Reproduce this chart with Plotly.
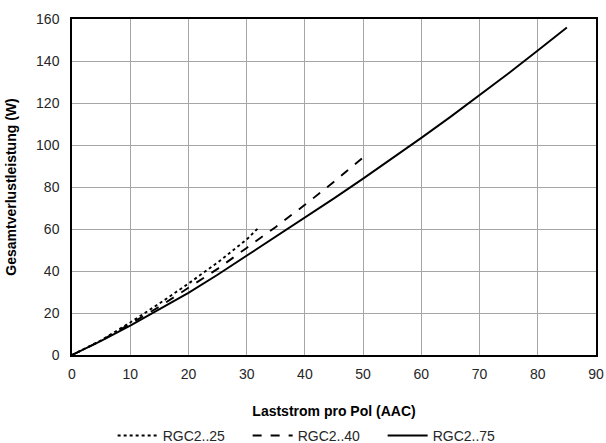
import plotly.graph_objects as go

# Data
current_25 = [0, 5, 10, 15, 20, 25, 30, 32]
loss_25 = [0, 7, 15.5, 24.5, 34, 44, 55, 60.5]

current_40 = [0, 5, 10, 15, 20, 25, 30, 35, 40, 45, 50]
loss_40 = [0, 6.8, 14.8, 23, 32, 41, 51, 61, 71.5, 82.5, 94]

current_75 = [0, 5, 10, 15, 20, 25, 30, 35, 40, 45, 50, 55, 60, 65, 70, 75, 80, 85]
loss_75 = [0, 6.7, 14, 21.6, 29.6, 38.2, 47.3, 56.1, 65.2, 74.6, 84, 93.6, 103.4, 113.4, 123.6, 134.2, 145, 156]

series = [
    ("RGC2..25", current_25, loss_25, "dot"),
    ("RGC2..40", current_40, loss_40, "dash"),
    ("RGC2..75", current_75, loss_75, "solid"),
]

fig = go.Figure()
for name, x, y, dash in series:
    fig.add_trace(go.Scatter(
        x=x, y=y, name=name, mode="lines",
        line=dict(color="black", width=1.9, dash=dash),
    ))

font_family = "Liberation Sans, Arial, sans-serif"
fig.update_layout(
    width=606, height=443,
    margin=dict(l=72, r=10, t=19, b=88, autoexpand=False),
    plot_bgcolor="white", paper_bgcolor="white",
    font=dict(family=font_family, size=14, color="#262626"),
    showlegend=True,
    legend=dict(
        orientation="h", x=0.464, xanchor="center",
        yref="container", y=0.016, yanchor="middle",
        font=dict(size=14, color="#262626"),
        itemwidth=40, entrywidth=80, entrywidthmode="pixels",
        tracegroupgap=0,
    ),
    xaxis=dict(
        range=[0, 90], dtick=10, tick0=0,
        showgrid=True, gridcolor="#a6a6a6", gridwidth=1,
        showline=True, linecolor="black", linewidth=1.5, mirror=True,
        zeroline=False, ticks="", automargin=False, ticklabelstandoff=5,
        title=dict(text="<b>Laststrom pro Pol (AAC)</b>", font=dict(size=14, color="black"), standoff=26),
    ),
    yaxis=dict(
        range=[0, 160], dtick=20, tick0=0,
        showgrid=True, gridcolor="#a6a6a6", gridwidth=1,
        showline=True, linecolor="black", linewidth=1.5, mirror=True,
        zeroline=False, ticks="", automargin=False, ticklabelstandoff=8,
        title=dict(text="<b>Gesamtverlustleistung (W)</b>", font=dict(size=14, color="black"), standoff=16),
    ),
)

fig.write_html("out.html")
